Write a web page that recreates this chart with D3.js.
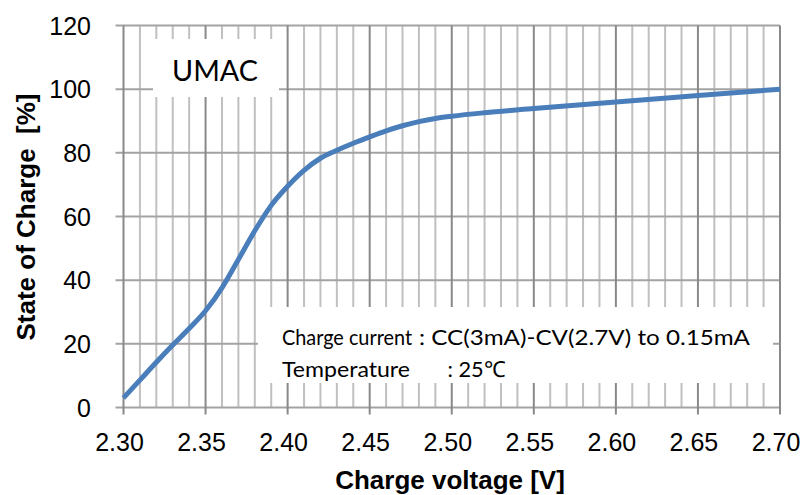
<!DOCTYPE html>
<html>
<head>
<meta charset="utf-8">
<script src="https://cdn.jsdelivr.net/npm/d3@7"></script>
<style>
  html, body { margin: 0; padding: 0; background: #fff; }
  svg { display: block; }
</style>
</head>
<body>
<svg id="chart" width="807" height="495"></svg>
<script>
// ---- data ----
const voltage = [2.30, 2.31, 2.32, 2.33, 2.34, 2.35, 2.36, 2.37, 2.38, 2.39, 2.40,
                 2.41, 2.42, 2.43, 2.44, 2.45, 2.46, 2.47, 2.48, 2.49, 2.50,
                 2.52, 2.55, 2.60, 2.65, 2.70];
const soc = [3, 8.6, 14.2, 19.6, 24.8, 30.4, 37.6, 46.5, 55.5, 63.5, 69.5,
             74.5, 78.3, 80.8, 83, 85, 86.9, 88.5, 89.8, 90.8, 91.5,
             92.6, 93.9, 96, 98, 100];
const xTicks = [2.30, 2.35, 2.40, 2.45, 2.50, 2.55, 2.60, 2.65, 2.70];
const xMinor = d3.range(0, 41).map(i => 2.30 + i * 0.01);
const yTicks = [0, 20, 40, 60, 80, 100, 120];
const xTitle = "Charge voltage [V]";
const yTitle = "State of Charge  [%]";
const badge = "UMAC";
const noteLabels = ["Charge current", "Temperature"];
const noteValues = [": CC(3mA)-CV(2.7V) to 0.15mA", ": 25\u2103"];

// ---- layout ----
const svg = d3.select("#chart");
const L = 123.5, R = 780, T = 25.5, B = 407.5;
const x = d3.scaleLinear().domain([2.30, 2.70]).range([L, R]);
const y = d3.scaleLinear().domain([0, 120]).range([B, T]);

const g = svg.append("g");

// minor vertical gridlines
g.selectAll(".minor").data(xMinor.filter((d, i) => i % 5 !== 0)).join("line")
  .attr("x1", d => x(d)).attr("x2", d => x(d))
  .attr("y1", T).attr("y2", B)
  .attr("stroke", "#c0c0c0").attr("stroke-width", 2);

// horizontal gridlines (with left tick extension)
g.selectAll(".hgrid").data(yTicks).join("line")
  .attr("x1", L - 8).attr("x2", R)
  .attr("y1", d => y(d)).attr("y2", d => y(d))
  .attr("stroke", "#a3a3a3").attr("stroke-width", 2);

// major vertical gridlines (with bottom tick extension)
g.selectAll(".major").data(xTicks).join("line")
  .attr("x1", d => x(d)).attr("x2", d => x(d))
  .attr("y1", T).attr("y2", B + 7)
  .attr("stroke", "#898989").attr("stroke-width", 2);

// white label boxes
g.append("rect").attr("x", 153).attr("y", 39).attr("width", 126).attr("height", 58).attr("fill", "#fff");
g.append("rect").attr("x", 258).attr("y", 307).attr("width", 515).attr("height", 76).attr("fill", "#fff");

const noteFont = "Lato, 'Open Sans', sans-serif";

// badge text
g.append("text").attr("x", 215).attr("y", 81)
  .attr("text-anchor", "middle")
  .attr("font-family", noteFont)
  .attr("font-size", 29).attr("fill", "#000")
  .attr("textLength", 86).attr("lengthAdjust", "spacingAndGlyphs")
  .text(badge);

// note text
const labelLen = [130, 128];
const valueX = [419, 447.5];
const valueLen = [331, 58];
const baseY = [345, 376.5];
noteLabels.forEach((t, i) => {
  g.append("text").attr("x", 282).attr("y", baseY[i])
    .attr("font-family", noteFont).attr("font-size", 22).attr("fill", "#000")
    .attr("textLength", labelLen[i]).attr("lengthAdjust", "spacingAndGlyphs")
    .text(t);
  g.append("text").attr("x", valueX[i]).attr("y", baseY[i])
    .attr("font-family", noteFont).attr("font-size", 22).attr("fill", "#000")
    .attr("textLength", valueLen[i]).attr("lengthAdjust", "spacingAndGlyphs")
    .style("white-space", "pre")
    .text(noteValues[i]);
});

// axes tick labels
g.selectAll(".ylab").data(yTicks).join("text")
  .attr("x", 91).attr("y", d => y(d)).attr("dy", "0.36em")
  .attr("text-anchor", "end")
  .attr("font-family", "'Liberation Sans', Arial, sans-serif")
  .attr("font-size", 25).attr("fill", "#000")
  .text(d => d);

g.selectAll(".xlab").data(xTicks).join("text")
  .attr("x", d => x(d) - 4).attr("y", 451)
  .attr("text-anchor", "middle")
  .attr("font-family", "'Liberation Sans', Arial, sans-serif")
  .attr("font-size", 25).attr("fill", "#000")
  .text(d => d.toFixed(2));

// axis titles
g.append("text").attr("x", 450).attr("y", 489)
  .attr("text-anchor", "middle")
  .attr("font-family", "'Liberation Sans', Arial, sans-serif")
  .attr("font-weight", "bold").attr("font-size", 26).attr("fill", "#000")
  .text(xTitle);

g.append("text").attr("transform", "translate(35,217) rotate(-90)")
  .attr("text-anchor", "middle")
  .attr("font-family", "'Liberation Sans', Arial, sans-serif")
  .attr("font-weight", "bold").attr("font-size", 26).attr("fill", "#000")
  .style("white-space", "pre")
  .text(yTitle);

// curve
const line = d3.line()
  .x((d, i) => x(voltage[i]))
  .y(d => y(d))
  .curve(d3.curveMonotoneX);
g.append("path").datum(soc)
  .attr("d", line)
  .attr("fill", "none")
  .attr("stroke", "#4a7ebb")
  .attr("stroke-width", 5)
  .attr("stroke-linecap", "butt");
</script>
</body>
</html>
